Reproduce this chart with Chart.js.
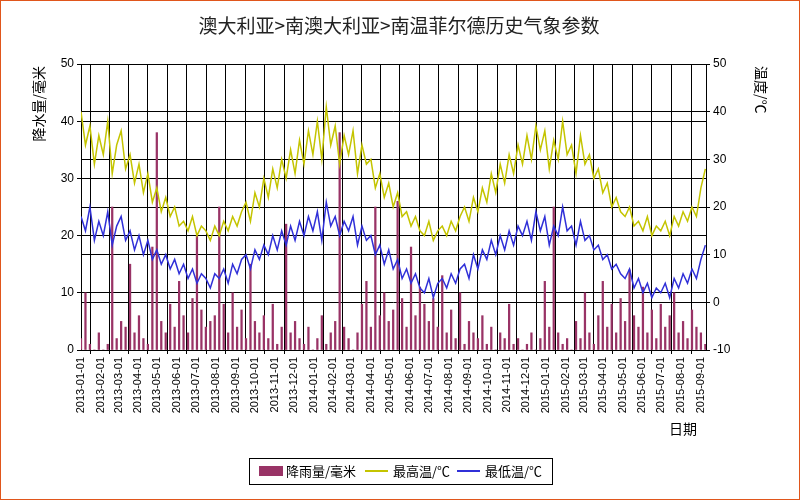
<!DOCTYPE html>
<html>
<head>
<meta charset="utf-8">
<script src="https://cdn.jsdelivr.net/npm/chart.js@4.4.0/dist/chart.umd.min.js"></script>
<style>
  body { margin: 0; background: #fff; }
  #wrap { width: 798px; height: 498px; border: 1px solid #e0561c; }
</style>
</head>
<body>
<div id="wrap"><canvas id="c" width="798" height="498"></canvas></div>
<script>
// dados semanais a partir de 2013-01-01
const startDate = '2013-01-01';
const chartTitle = '澳大利亚>南澳大利亚>南温菲尔德历史气象参数';
const monthLabels = [
  '2013-01-01','2013-02-01','2013-03-01','2013-04-01','2013-05-01','2013-06-01','2013-07-01','2013-08-01','2013-09-01','2013-10-01','2013-11-01','2013-12-01',
  '2014-01-01','2014-02-01','2014-03-01','2014-04-01','2014-05-01','2014-06-01','2014-07-01','2014-08-01','2014-09-01','2014-10-01','2014-11-01','2014-12-01',
  '2015-01-01','2015-02-01','2015-03-01','2015-04-01','2015-05-01','2015-06-01','2015-07-01','2015-08-01','2015-09-01'
];
const rainfall = [
  2,10,1,0,3,0,1,25,2,5, 4,15,3,6,2,1,18,38,5,3, 8,4,12,6,3,9,20,7,4,5,
  6,25,8,3,10,4,7,2,15,5, 3,6,2,8,1,4,22,3,5,2, 1,4,0,2,6,1,3,5,38,4,
  2,0,3,8,12,4,25,6,10,5, 7,26,9,4,18,6,11,8,5,9, 4,13,3,7,2,10,1,5,3,2,
  6,1,4,0,3,2,8,1,2,0, 1,3,0,2,12,4,25,3,1,2, 0,5,2,10,3,1,6,12,4,8,
  3,9,5,14,6,4,11,3,7,2, 8,4,6,10,3,5,2,7,4,3,1
];
const maxTemp = [
  40,33,37,29,35,31,38,27,33,36, 28,31,25,29,23,27,21,24,19,22, 18,20,16,17,15,18,14,16,15,13,
  16,14,17,15,18,16,19,21,17,23, 20,26,22,28,24,30,26,32,27,34, 29,36,31,38,30,41,33,37,29,35,
  31,36,27,33,29,30,24,27,22,25, 20,23,18,19,16,18,15,14,17,13, 15,16,14,17,15,18,20,17,22,19,
  24,21,27,23,29,25,31,27,33,29, 35,30,37,32,36,28,34,30,38,31, 33,27,35,29,31,26,28,23,25,20,
  22,19,18,20,16,17,15,18,14,16, 15,17,14,18,16,19,17,20,18,24,28
];
const minTemp = [
  18,15,20,13,17,14,19,12,16,18, 13,15,11,14,10,13,9,11,8,10, 7,9,6,8,5,7,4,6,5,3,
  6,5,7,4,8,6,9,10,7,11, 9,12,10,14,11,15,12,16,13,17, 14,18,15,19,13,21,16,18,14,17,
  15,18,12,16,13,14,10,12,8,11, 7,9,5,7,4,6,3,2,5,1, 4,5,3,6,4,7,8,5,10,7,
  11,9,13,10,14,11,15,12,16,14, 17,13,19,15,18,12,16,14,20,15, 16,12,17,13,14,11,12,9,10,7,
  8,6,5,7,3,5,2,4,1,3, 2,4,1,5,3,6,4,7,5,9,12
];

const dia0 = new Date(startDate + 'T00:00:00Z');
const diasDoInicio = (s) => Math.round((new Date(s + 'T00:00:00Z') - dia0) / 86400000);
const monthTicks = monthLabels.map(diasDoInicio);
const pts = (arr) => arr.map((v, i) => ({ x: i * 7, y: v }));

const FONTE = '"Noto Sans CJK SC"';

const extras = {
  id: 'extras',
  afterDraw(chart) {
    const ctx = chart.ctx;
    const a = chart.chartArea;
    ctx.save();
    ctx.fillStyle = '#222';
    ctx.font = '19px ' + FONTE;
    ctx.textAlign = 'center';
    ctx.textBaseline = 'middle';
    ctx.fillText(chartTitle, 398, 25);

    ctx.fillStyle = '#000';
    ctx.font = '14px ' + FONTE;
    ctx.save();
    ctx.translate(38, a.top + 2);
    ctx.rotate(-Math.PI / 2);
    ctx.textAlign = 'right';
    ctx.fillText('降水量/毫米', 0, 0);
    ctx.restore();
    ctx.save();
    ctx.translate(760, a.top + 2);
    ctx.rotate(Math.PI / 2);
    ctx.textAlign = 'left';
    ctx.fillText('温度/℃', 0, 0);
    ctx.restore();
    ctx.textAlign = 'left';
    ctx.fillText('日期', 668, 428);

    // legenda
    ctx.strokeStyle = '#000';
    ctx.lineWidth = 1;
    ctx.strokeRect(248.5, 457.5, 303, 26);
    ctx.font = '13px ' + FONTE;
    const ds = chart.data.datasets;
    ctx.fillStyle = ds[0].backgroundColor;
    ctx.fillRect(258, 465, 24, 10);
    ctx.fillStyle = '#000';
    ctx.fillText(ds[0].label, 285, 470);
    [[1, 364], [2, 456]].forEach(([i, x]) => {
      ctx.strokeStyle = ds[i].borderColor;
      ctx.lineWidth = 2;
      ctx.beginPath(); ctx.moveTo(x, 470); ctx.lineTo(x + 23, 470); ctx.stroke();
      ctx.fillText(ds[i].label, x + 28, 470);
    });
    ctx.restore();
  }
};

new Chart(document.getElementById('c'), {
  data: {
    datasets: [
      { type: 'bar', label: '降雨量/毫米', data: pts(rainfall), yAxisID: 'y', backgroundColor: '#993366', borderWidth: 0, barThickness: 1.6, order: 3 },
      { type: 'line', label: '最高温/℃', data: pts(maxTemp), yAxisID: 'y2', borderColor: '#c4c400', backgroundColor: '#c4c400', borderWidth: 1.5, pointRadius: 0, tension: 0, order: 2 },
      { type: 'line', label: '最低温/℃', data: pts(minTemp), yAxisID: 'y2', borderColor: '#3030d8', backgroundColor: '#3030d8', borderWidth: 1.5, pointRadius: 0, tension: 0, order: 1 }
    ]
  },
  options: {
    responsive: false,
    animation: false,
    layout: { padding: { left: 0, right: 0, top: 63, bottom: 60 } },
    plugins: { legend: { display: false }, title: { display: false }, tooltip: { enabled: false } },
    scales: {
      x: {
        type: 'linear', min: 0, max: 981, offset: false,
        afterBuildTicks: (axis) => { axis.ticks = monthTicks.map(v => ({ value: v })); },
        afterFit: (axis) => { axis.height = 89; },
        ticks: { autoSkip: false, maxRotation: 90, minRotation: 90, color: '#000', font: { size: 11 },
          callback: (v) => monthLabels[monthTicks.indexOf(v)] },
        grid: { color: '#000', tickLength: 4 },
        border: { color: '#000' }
      },
      y: {
        position: 'left', min: 0, max: 50,
        afterFit: (axis) => { axis.width = 80; },
        ticks: { stepSize: 10, color: '#000', font: { size: 12 } },
        grid: { color: '#000', tickLength: 4 },
        border: { color: '#000' }
      },
      y2: {
        position: 'right', min: -10, max: 50,
        afterFit: (axis) => { axis.width = 93; },
        ticks: { stepSize: 10, color: '#000', font: { size: 12 } },
        grid: { color: '#000', tickLength: 4 },
        border: { color: '#000' }
      }
    }
  },
  plugins: [extras]
});
</script>
</body>
</html>
